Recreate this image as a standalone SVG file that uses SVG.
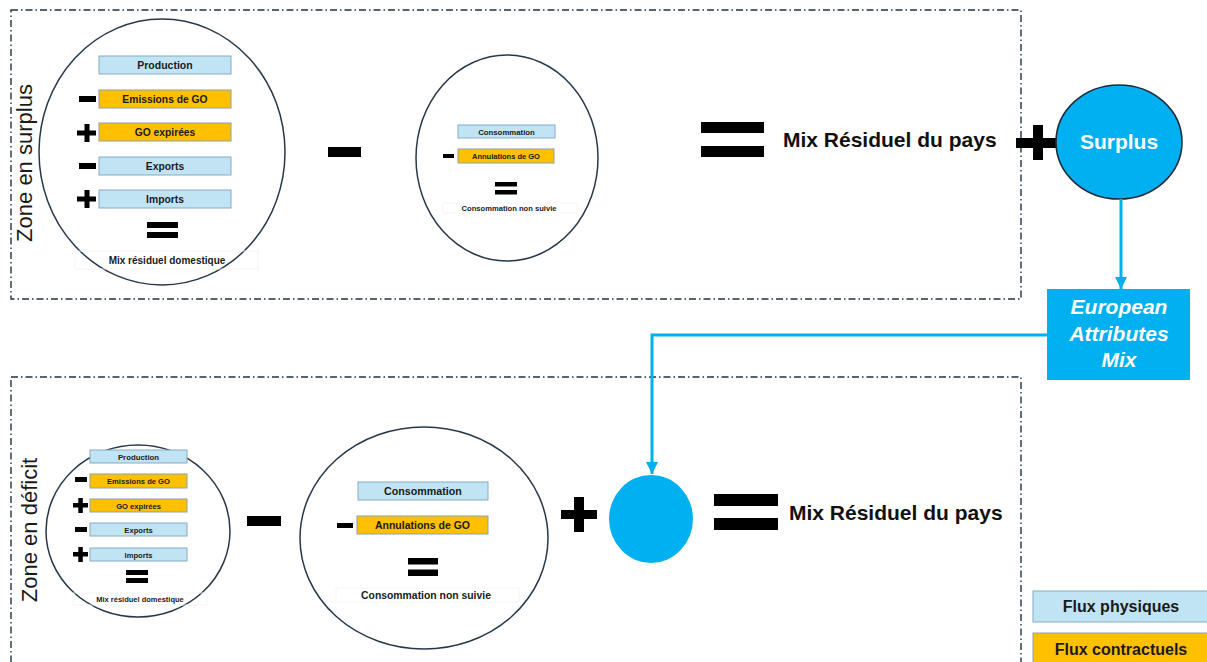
<svg xmlns="http://www.w3.org/2000/svg" width="1207" height="662" viewBox="0 0 1207 662">
<defs>
<style>
.frame{fill:none;stroke:#1f3347;stroke-width:1.4;stroke-dasharray:7 3 1.5 3}
.circ{fill:#fff;stroke:#26384a;stroke-width:1.5}
.phys{fill:#C1E4F5;stroke:#86aac2;stroke-width:1}
.contr{fill:#FFC000;stroke:#8d9fae;stroke-width:1}
.faint{fill:none;stroke:#f3f3f3;stroke-width:0.8}
.t{font-family:"Liberation Sans",Arial,sans-serif;font-weight:bold;fill:#1a1a1a;text-anchor:middle}
.zone{font-family:"Liberation Sans",Arial,sans-serif;font-size:22px;fill:#1a1a1a;text-anchor:middle}
.big{font-family:"Liberation Sans",Arial,sans-serif;font-weight:bold;font-size:21px;fill:#111}
.w{font-family:"Liberation Sans",Arial,sans-serif;font-weight:bold;fill:#fff;text-anchor:middle}
.sign{fill:#000}
.conn{fill:none;stroke:#00B0F0;stroke-width:3}
</style>
<marker id="ah" viewBox="0 0 10 10" refX="10" refY="5" markerWidth="4" markerHeight="4" markerUnits="strokeWidth" orient="auto">
<path d="M0,0 L10,5 L0,10 Z" fill="#00B0F0"/>
</marker>
</defs>

<rect class="frame" x="11" y="10" width="1010" height="289"/>
<rect class="frame" x="11" y="377" width="1010" height="300"/>

<text class="zone" transform="translate(32,163) rotate(-90)">Zone en surplus</text>
<text class="zone" transform="translate(37,530) rotate(-90)">Zone en déficit</text>

<g id="mix-domestique-surplus">
<ellipse class="circ" cx="162" cy="152" rx="123" ry="133"/>
<rect class="phys" x="99" y="56" width="132" height="18"/>
<text class="t" x="165" y="69" font-size="10.5">Production</text>
<rect class="contr" x="99" y="90" width="132" height="18"/>
<text class="t" x="165" y="103" font-size="10.3">Emissions de GO</text>
<rect class="contr" x="99" y="123" width="132" height="18"/>
<text class="t" x="165" y="136" font-size="10.3">GO expirées</text>
<rect class="phys" x="99" y="157" width="132" height="18"/>
<text class="t" x="165" y="170" font-size="10.3">Exports</text>
<rect class="phys" x="99" y="190" width="132" height="18"/>
<text class="t" x="165" y="203" font-size="10.3">Imports</text>
<rect class="sign" x="79" y="96" width="17" height="6"/>
<path class="sign" d="M77,130.5h19v5h-19z M84.5,124h5v18h-5z"/>
<rect class="sign" x="79" y="163" width="17" height="6"/>
<path class="sign" d="M77,196.5h19v5h-19z M84.5,190h5v18h-5z"/>
<rect class="sign" x="147" y="222" width="31" height="6"/>
<rect class="sign" x="147" y="232" width="31" height="6"/>
<rect class="faint" x="75" y="251" width="183" height="18"/>
<text class="t" x="167" y="264" font-size="10">Mix résiduel domestique</text>
</g>

<rect id="minus-top" class="sign" x="328" y="147" width="33" height="10"/>

<g id="conso-surplus">
<ellipse class="circ" cx="507" cy="158" rx="91" ry="103"/>
<rect class="phys" x="458" y="125" width="97" height="13"/>
<text class="t" x="506.5" y="134.5" font-size="7.8">Consommation</text>
<rect class="contr" x="458" y="149" width="96" height="14"/>
<text class="t" x="506" y="159" font-size="7.5">Annulations de GO</text>
<rect class="sign" x="443" y="154" width="11" height="4"/>
<rect class="sign" x="495" y="182" width="22" height="4.5"/>
<rect class="sign" x="495" y="190" width="22" height="4.5"/>
<rect class="faint" x="443" y="203" width="134" height="10"/>
<text class="t" x="509" y="211" font-size="7.6">Consommation non suivie</text>
</g>

<g id="resultat-surplus">
<rect class="sign" x="701" y="122" width="63" height="11"/>
<rect class="sign" x="701" y="146" width="63" height="11"/>
<text class="big" x="783" y="147">Mix Résiduel du pays</text>
<path class="sign" d="M1016,138h42v10h-42z M1033,125h10v35h-10z"/>
</g>

<g id="surplus">
<ellipse cx="1119" cy="142" rx="63" ry="57" fill="#00B0F0" stroke="#1e2c3a" stroke-width="1.6"/>
<text class="w" x="1119" y="149" font-size="21">Surplus</text>
</g>

<g id="european-attributes-mix">
<rect x="1047" y="289" width="143" height="91" fill="#00B0F0"/>
<text class="w" x="1119" y="314" font-size="21" font-style="italic">European</text>
<text class="w" x="1119" y="341" font-size="21" font-style="italic">Attributes</text>
<text class="w" x="1119" y="367" font-size="21" font-style="italic">Mix</text>
</g>

<g id="mix-domestique-deficit">
<ellipse class="circ" cx="138" cy="531" rx="92" ry="86"/>
<rect class="phys" x="90" y="450" width="97" height="13"/>
<text class="t" x="138.5" y="460" font-size="7.8">Production</text>
<rect class="contr" x="90" y="474" width="97" height="14"/>
<text class="t" x="138.5" y="484" font-size="7.6">Emissions de GO</text>
<rect class="contr" x="90" y="499" width="97" height="13"/>
<text class="t" x="138.5" y="508.5" font-size="7.6">GO expirées</text>
<rect class="phys" x="90" y="523" width="97" height="13"/>
<text class="t" x="138.5" y="532.5" font-size="7.6">Exports</text>
<rect class="phys" x="90" y="548" width="97" height="13"/>
<text class="t" x="138.5" y="557.5" font-size="7.6">Imports</text>
<rect class="sign" x="75" y="477" width="12" height="5"/>
<path class="sign" d="M73,503h15v4.5h-15z M78.3,498h4.5v15h-4.5z"/>
<rect class="sign" x="75" y="527" width="12" height="5"/>
<path class="sign" d="M73,552h15v4.5h-15z M78.3,547h4.5v15h-4.5z"/>
<rect class="sign" x="126" y="570" width="22" height="5"/>
<rect class="sign" x="126" y="578" width="22" height="5"/>
<rect class="faint" x="73" y="593" width="134" height="12"/>
<text class="t" x="140" y="602" font-size="7.5">Mix résiduel domestique</text>
</g>

<rect id="minus-bottom" class="sign" x="247" y="516" width="34" height="10"/>

<g id="conso-deficit">
<ellipse class="circ" cx="424" cy="538" rx="124" ry="111"/>
<rect class="phys" x="358" y="482" width="130" height="18"/>
<text class="t" x="423" y="495" font-size="10.7">Consommation</text>
<rect class="contr" x="357" y="516" width="131" height="18"/>
<text class="t" x="422.5" y="529" font-size="10.5">Annulations de GO</text>
<rect class="sign" x="337" y="523" width="16" height="5"/>
<rect class="sign" x="408" y="558" width="30" height="6.5"/>
<rect class="sign" x="408" y="569.5" width="30" height="6.5"/>
<rect class="faint" x="336" y="588" width="183" height="14"/>
<text class="t" x="426" y="599" font-size="10.4">Consommation non suivie</text>
</g>

<path id="plus-bottom" class="sign" d="M561,510h36v9h-36z M574,497h10v35h-10z"/>

<g id="european-part">
<ellipse cx="651" cy="519" rx="42" ry="44" fill="#00B0F0"/>
</g>

<g id="resultat-deficit">
<rect class="sign" x="714" y="494" width="64" height="12"/>
<rect class="sign" x="714" y="518" width="64" height="12"/>
<text class="big" x="789" y="520">Mix Résiduel du pays</text>
</g>

<g id="legend">
<rect class="phys" x="1033" y="591" width="180" height="31" stroke-width="1.3"/>
<text class="t" x="1121" y="612" font-size="16">Flux physiques</text>
<rect class="contr" x="1033" y="633" width="180" height="35" stroke-width="1.3"/>
<text class="t" x="1121" y="655" font-size="16">Flux contractuels</text>
</g>

<g id="connectors">
<path class="conn" d="M1121,199 V289" marker-end="url(#ah)"/>
<path class="conn" d="M1047,335 H652 V474" marker-end="url(#ah)"/>
</g>
</svg>
